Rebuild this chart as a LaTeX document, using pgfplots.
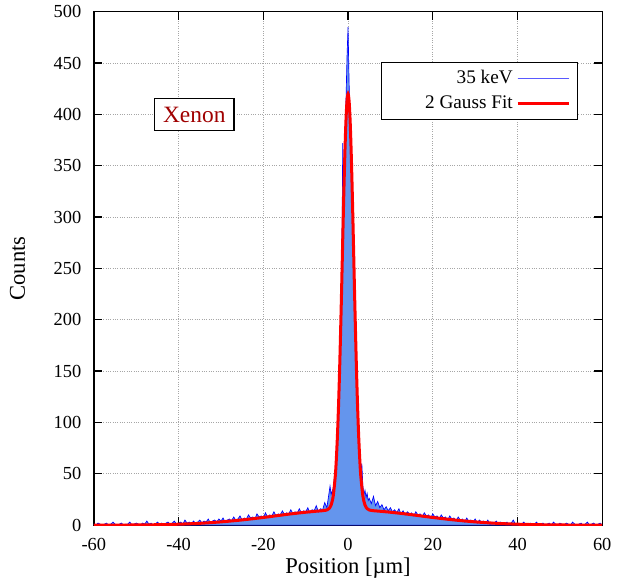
\documentclass[border=0pt]{standalone}
\usepackage{pgfplots}
\pgfplotsset{compat=1.18}
\usepackage{fontspec}
\setmainfont{Liberation Serif}
\definecolor{histfill}{RGB}{100,149,237}
\definecolor{xenon}{RGB}{160,0,0}

\begin{document}
\begin{tikzpicture}
\begin{axis}[
    width=304pt, height=307pt, scale only axis,
    xmin=-60, xmax=60, ymin=0, ymax=500,
    xtick={-60,-40,...,60}, ytick={0,50,...,500},
    tick align=inside, major tick length=5pt,
    grid=major, grid style={densely dotted, gray!70, line width=0.5pt},
    axis line style={line width=0.8pt},
    tick style={black, line width=0.8pt},
    /pgf/number format/assume math mode=true,
    tick label style={font=\fontsize{11}{13}\selectfont},
    xticklabel style={yshift=-4.5pt},
    yticklabel style={xshift=-4pt},
    label style={font=\fontsize{13.5}{16}\selectfont},
    xlabel={Position [µm]}, ylabel={Counts},
    xlabel style={at={(axis description cs:0.5,-0.083)}, anchor=center},
    ylabel style={at={(axis description cs:-0.15,0.5)}, anchor=center, inner sep=6pt},
    legend plot pos=right,
    legend cell align=right,
    legend style={at={(0.953,0.903)}, anchor=north east, draw=black,
        line width=0.8pt, font=\fontsize{11.5}{14}\selectfont,
        inner xsep=4pt, inner ysep=3pt, row sep=1.5pt,
        /tikz/every even column/.append style={column sep=9pt}},
]
% histogram (35 keV)
\addplot[draw=blue, line width=0.4pt, fill=histfill,
    legend image code/.code={\draw[blue!65, line width=0.6pt] (0pt,0pt) -- (31pt,0pt);}]
coordinates {
(-60,1) (-59.5,0) (-59,2) (-58.5,1) (-58,0) (-57.5,1) (-57,2) (-56.5,0) (-56,1) (-55.5,3)
(-55,1) (-54.5,0) (-54,1) (-53.5,2) (-53,0) (-52.5,1) (-52,1) (-51.5,3) (-51,0) (-50.5,1)
(-50,2) (-49.5,1) (-49,0) (-48.5,2) (-48,1) (-47.5,4) (-47,1) (-46.5,2) (-46,0) (-45.5,1)
(-45,3) (-44.5,1) (-44,2) (-43.5,0) (-43,2) (-42.5,3) (-42,1) (-41.5,2) (-41,4) (-40.5,1)
(-40,2) (-39.5,3) (-39,1) (-38.5,5) (-38,2) (-37.5,3) (-37,1) (-36.5,4) (-36,2) (-35.5,3)
(-35,5) (-34.5,2) (-34,4) (-33.5,3) (-33,6) (-32.5,2) (-32,4) (-31.5,5) (-31,3) (-30.5,6)
(-30,4) (-29.5,7) (-29,3) (-28.5,5) (-28,6) (-27.5,4) (-27,8) (-26.5,5) (-26,6) (-25.5,9)
(-25,5) (-24.5,7) (-24,6) (-23.5,10) (-23,7) (-22.5,8) (-22,6) (-21.5,11) (-21,8) (-20.5,9)
(-20,7) (-19.5,12) (-19,8) (-18.5,10) (-18,9) (-17.5,13) (-17,9) (-16.5,11) (-16,10) (-15.5,14)
(-15,10) (-14.5,12) (-14,11) (-13.5,15) (-13,11) (-12.5,13) (-12,12) (-11.5,16) (-11,12) (-10.5,14)
(-10,13) (-9.5,17) (-9,12) (-8.5,15) (-8,14) (-7.5,19) (-7,13) (-6.5,16) (-6,15) (-5.5,22)
(-5,17) (-4.75,24) (-4.5,31) (-4.25,38) (-4,30) (-3.75,33) (-3.5,36) (-3.25,45) (-3,55) (-2.75,70)
(-2.5,92) (-2.25,120) (-2,150) (-1.75,195) (-1.5,240) (-1.25,372) (-1,330) (-0.75,375) (-0.5,410) (-0.25,455)
(0,485) (0.25,430) (0.5,395) (0.75,360) (1,320) (1.25,275) (1.5,228) (1.75,185) (2,148) (2.25,112)
(2.5,85) (2.75,66) (3,50) (3.25,60) (3.5,38) (3.75,30) (4,34) (4.25,27) (4.5,31) (4.75,24)
(5,26) (5.5,21) (6,28) (6.5,19) (7,23) (7.5,17) (8,20) (8.5,15) (9,18) (9.5,14)
(10,17) (10.5,13) (11,15) (11.5,12) (12,16) (12.5,11) (13,14) (13.5,10) (14,13) (14.5,11)
(15,12) (15.5,9) (16,13) (16.5,10) (17,11) (17.5,8) (18,12) (18.5,9) (19,10) (19.5,7)
(20,11) (20.5,8) (21,9) (21.5,6) (22,10) (22.5,7) (23,8) (23.5,5) (24,9) (24.5,6)
(25,7) (25.5,4) (26,8) (26.5,5) (27,6) (27.5,3) (28,7) (28.5,4) (29,5) (29.5,3)
(30,6) (30.5,2) (31,5) (31.5,3) (32,4) (32.5,2) (33,5) (33.5,1) (34,3) (34.5,2)
(35,4) (35.5,1) (36,3) (36.5,2) (37,1) (37.5,3) (38,0) (38.5,2) (39,5) (39.5,1)
(40,2) (40.5,0) (41,1) (41.5,3) (42,0) (42.5,1) (43,2) (43.5,0) (44,1) (44.5,3)
(45,0) (45.5,1) (46,2) (46.5,0) (47,1) (47.5,2) (48,0) (48.5,3) (49,1) (49.5,0)
(50,2) (50.5,1) (51,0) (51.5,2) (52,1) (52.5,0) (53,3) (53.5,1) (54,0) (54.5,1)
(55,2) (55.5,0) (56,1) (56.5,3) (57,0) (57.5,1) (58,2) (58.5,0) (59,1) (59.5,2) (60,0)
} \closedcycle;
\addlegendentry{35 keV}
% two-Gaussian fit
\addplot[red, line width=1.8pt, smooth,
    legend image code/.code={\draw[red, line width=1.8pt] (0pt,0pt) -- (31pt,0pt);}]
coordinates {
(-60,0.03) (-55,0.08) (-50,0.2) (-45,0.45) (-40,0.94) (-35,1.8) (-30,3.2) (-25,5.1)
(-20,7.5) (-15,10.2) (-12,11.7) (-10,12.6) (-8,13.4) (-6,14.1) (-5,14.8) (-4.5,16.1)
(-4,19.6) (-3.5,28.5) (-3,48.3) (-2.75,65.3) (-2.5,87.5) (-2.25,115.9) (-2,149.9)
(-1.75,189.9) (-1.5,233) (-1.25,279) (-1,323) (-0.75,362) (-0.5,393) (-0.25,413) (0,420)
(0.25,413) (0.5,393) (0.75,362) (1,323) (1.25,279) (1.5,233) (1.75,189.9) (2,149.9)
(2.25,115.9) (2.5,87.5) (2.75,65.3) (3,48.3) (3.5,28.5) (4,19.6) (4.5,16.1) (5,14.8)
(6,14.1) (8,13.4) (10,12.6) (12,11.7) (15,10.2) (20,7.5) (25,5.1) (30,3.2) (35,1.8)
(40,0.94) (45,0.45) (50,0.2) (55,0.08) (60,0.03)
};
\addlegendentry{\hspace*{20pt}2 Gauss Fit}
\node[draw=black, line width=0.8pt, fill=white, text=xenon,
    font=\fontsize{14}{16}\selectfont, inner xsep=5pt, inner ysep=5pt]
    at (axis cs:-36.3,400) {Xenon};
\end{axis}
\end{tikzpicture}
\end{document}
